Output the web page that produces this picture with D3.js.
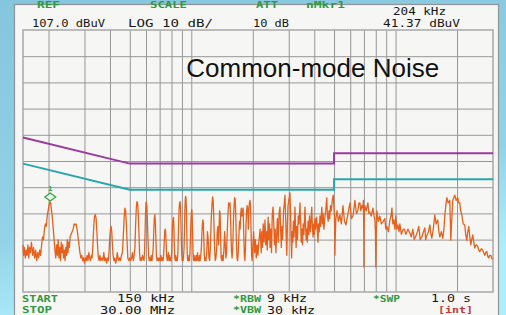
<!DOCTYPE html>
<html>
<head>
<meta charset="utf-8">
<script src="https://cdn.jsdelivr.net/npm/d3@7"></script>
<style>
html, body { margin: 0; padding: 0; background: #8ecde2; }
svg { display: block; }
</style>
</head>
<body>
<svg id="chart"></svg>
<script>
// analyzer settings
const refLevel = 107
const bottomLevel = 7
const startKHz = 150
const stopKHz = 30000
const freqGrid = [200, 300, 400, 500, 600, 700, 800, 900, 1000, 2000, 3000, 4000, 5000, 6000, 7000, 8000, 9000, 10000, 20000]
const levelGrid = [17, 27, 37, 47, 57, 67, 77, 87, 97]

// CISPR limit lines [kHz, dBuV]
const qpLimit = [[150, 66], [500, 56], [5000, 56], [5000, 60], [30000, 60]]
const avgLimit = [[150, 56], [500, 46], [5000, 46], [5000, 50], [30000, 50]]

const trace = [
  [150,25],[151,21],[152.5,24],[154,20],[155.5,23],[157,21],[158.5,25],[160,20],[161.5,24],[163,22],[165,26],[167,21],[169,24],[171,20],[173,23],[175,19],[177,22],[179,20],[181,23],[183,21],[185,25],[187,28],[189,27],[191,31],[193,33],[195,32],[197,36],[199,38],[201,40],[203,41.4],[205,41],[207,38],[209,35],[211,31],[213,27],[215,23],[217,20],
  [219,25],[221,21],[223,27],[225,20],[227,24],[229,19],[231,26],[233,22],[235,25],[237,20],[239,23],[241,19],[243,24],[245,21],[247,27],[249,22],[251,26],[253,24],[255,28],
  [258,29],[261,30],[264,31],[267,33],[270,32.6],[273,33],[276,31],[279,28],[282,25],[285,22],[288,20],[291,21],[294,19],[297,20],[300,18],[303,20],[306,19],[309,21],[312,19],[315,22],[318,20],[321,19],[324,21],[327,20],[330,25],[333,32],[336,36],[339,36.5],[342,35],[345,30],[348,24],[351,20],[354,19],[357,21],[361,19],[365,20],[369,19],[373,22],[377,19],[381,20],[385,18],[389,20],[393,19],[396,23],[399,28],[402,31],[405,32],[408,30],[411,25],[414,21],[418,19],[422,20],[426,18],[430,19],[434,22],[438,20],[442,19],[446,20],[450,19],[455,21],[460,22],[465,29],[469,35],[473,39],[477,38],[481,33],[485,26],[489,20],[494,19],[500,20],[505,19],[510,20],[515,22],[520,19],[525,21],[530,24],[534,33],[538,39],[542,41.5],[546,41],[550,37],[554,30],[558,22],[562,19],[567,20],[572,19],[577,21],[582,20],[587,19],[591,23],[594,30],[597,37],[600,41],[603,41.3],[606,40],[610,34],[614,27],[618,21],[622,19],[627,20],[632,19],[637,21],[642,19],[647,21],[651,24],[655,30],[659,35],[663,36.5],[667,34],[671,27],[675,21],[680,19],[686,20],[692,19],[698,20],[704,19],[710,21],[716,19],[722,20],[728,19],[733,22],[737,26],[741,30],[745,31],[749,30],[753,26],[757,21],[762,19],[767,20],[772,22],[777,19],[782,21],[787,19],[792,20],[797,19],[802,22],[806,28],[810,33],[814,35],[818,35.5],[822,32],[826,25],[830,20],[835,19],[840,21],[845,19],[850,20],[855,19],[860,22],[864,28],[868,35],[872,39],[877,41],[882,41.5],[887,38],[892,30],[897,22],[902,19],[907,20],[912,19],[917,21],[922,24],[926,31],[930,38],[934,42],[938,43.5],[942,43],[946,39],[950,31],[955,22],[960,19],[965,20],[970,19],[975,21],[980,19],[985,22],[990,27],[995,33],[1000,37],[1005,38.5],[1010,36],[1015,29],[1020,22],[1026,19],[1032,21],[1038,19],[1044,20],[1050,19],[1056,21],[1062,19],[1068,20],[1074,22],[1080,19],[1086,20],[1092,19],[1098,21],[1104,19],[1110,20],[1116,22],[1122,25],[1128,30],[1134,33],[1140,34.5],[1146,33],[1152,27],[1158,21],[1164,19],
  [1170,20],[1180,19],[1190,22],[1200,30],[1210,27],[1220,20],[1230,19],[1240,24],[1252,35],[1264,41],[1272,43.3],[1280,42],[1290,34],[1300,24],[1310,19],[1320,20],[1330,23],[1340,30],[1350,32],[1360,25],[1368,32],[1376,38],[1384,37],[1392,28],[1400,20],[1410,19],[1420,21],[1432,19],[1444,23],[1456,30],[1466,26],[1476,20],[1488,22],[1500,30],[1512,37],[1524,41],[1536,40],[1548,41],[1560,33],[1572,23],[1584,20],[1596,24],[1608,34],[1620,40],[1630,43],[1640,42.5],[1650,37],[1662,27],[1674,20],[1686,19],[1698,22],[1710,28],[1722,34],[1734,31],[1746,37],[1758,39],[1770,36],[1782,38],[1794,39],[1806,30],[1818,21],[1830,19],[1842,24],[1854,33],[1866,38],[1878,40],[1890,39],[1902,31],[1914,38],[1926,41],[1938,42],[1950,40],[1962,30],[1974,21],[1986,19],
  [2000,24],[2020,30],[2040,22],[2060,27],[2080,20],[2100,25],[2120,21],[2140,26],[2160,29],[2171,31],[2185,27],[2200,22],[2215,30],[2230,24],[2250,33],[2270,26],[2296,34.5],[2315,25],[2335,30],[2355,23],[2378,35.6],[2395,27],[2415,33],[2430,24],[2450,31],[2470,22],[2490,36],[2513,39.4],[2535,33],[2555,25],[2575,31],[2595,22],[2615,28],[2640,35],[2665,26],[2690,37],[2718,39.4],[2740,30],[2760,24],[2780,32],[2800,27],[2830,38],[2855,41],[2876,44],[2895,36],[2915,28],[2935,21],[2955,33],[2975,40],[3000,42],[3020,43],[3042,44.8],[3060,38],[3080,27],[3100,20],[3120,30],[3140,26],[3160,34],[3185,28],[3218,39.4],[3240,31],[3260,24],[3285,32],[3310,27],[3340,36],[3370,33],[3405,41],[3430,34],[3455,26],[3480,31],[3505,25],[3530,33],[3560,29],[3602,39.4],[3625,33],[3650,27],[3675,31],[3700,26],[3730,34],[3760,29],[3790,36],[3830,30],[3860,35],[3889,39.4],[3915,32],[3945,28],[3975,33],[4000,29],[4031,35],[4060,31],[4110,35.6],[4140,31],[4170,26],[4200,33],[4230,30],[4265,36],[4300,32],[4355,39.4],[4390,33],[4420,37],[4460,31],[4500,35],[4550,38],[4605,43],[4640,36],[4680,34],[4720,38],[4760,35],[4800,40],[4850,38],[4900,42],[4950,44],[4990,40],[5020,36],[5040,28],[5049,21],[5060,26],
  [5100,35],[5170,38],[5250,34],[5342,36.4],[5430,33],[5530,40],[5620,34],[5720,32.6],[5850,37],[5979,41],[6080,35],[6190,36],[6260,39],[6324,42],[6430,37],[6540,38],[6620,41],[6691,41],[6760,38],[6840,40],[6920,39],[6960,42],[6990,30],[7000,16.5],[7010,28],[7040,38],[7078,40],[7180,38],[7320,41],[7400,37],[7488,37.5],[7600,36],[7750,39],[7850,36],[7922,34.5],[7970,30],[8010,16.5],[8050,30],[8100,38],[8240,34],[8381,36],[8520,33],[8670,33.7],[8865,35],[8960,31],[9070,32],[9230,30],[9380,34.5],[9500,36],[9600,39],[9700,33],[9810,34.5],[9920,31],[10030,36],[10150,31],[10270,32.6],[10400,30],[10497,33],[10680,29],[10860,30.7],[11050,31],[11230,29],[11500,31],[11748,29.5],[11950,28],[12150,31],[12350,27],[12570,28.4],[12800,30],[13000,32],[13200,27],[13450,28],[13700,30],[13909,31.5],[14050,27],[14220,28.5],[14500,30],[14715,32.6],[14900,29],[15050,27.6],[15300,31],[15567,36.4],[15800,33],[16100,34.5],[16300,30],[16469,28],[16750,30],[17040,27.5],[17250,31],[17422,36],[17620,40],[17820,43],[18100,41],[18431,42],[18550,34],[18640,26.8],[18800,33],[19060,42],[19300,43],[19499,44],[19800,42],[20170,43],[20400,41],[20628,41],[20850,38],[21100,36.4],[21450,33],[21823,32.6],[22050,29],[22320,26.8],[22580,30],[22830,32],[23100,28],[23350,25],[23600,27],[23880,28.8],[24150,26],[24424,23.8],[24800,25],[25260,24.5],[25550,23],[25839,22.4],[26300,23.5],[26730,23],[27000,22],[27335,21],[27650,22],[27960,22.5],[28300,20.5],[28600,20],[28900,21],[29260,21],[29600,19.8],[30000,19.5]
]

// marker 1
const markerKHz = 204
const markerLevel = 41.37
const markerName = '1'

// screen annotations
const title = 'Common-mode Noise'
const headerKeys = ['REF', 'SCALE', 'ATT', 'nMkr1']
const headerValues = ['107.0 dBuV', 'LOG 10 dB/', '10 dB']
const markerReadout = ['204 kHz', '41.37 dBuV']
const footerKeys = ['START', 'STOP', '*RBW', '*VBW', '*SWP']
const footerValues = ['150 kHz', '30.00 MHz', '9 kHz', '30 kHz', '1.0 s']
const sweepMode = '[int]'

const width = 506, height = 315
const margin = { top: 30, right: 13, bottom: 23, left: 23 }

const svg = d3.select('#chart').attr('width', width).attr('height', height).attr('viewBox', [0, 0, width, height])

// backdrop
const defs = svg.append('defs')
const bg = defs.append('linearGradient').attr('id', 'bg').attr('x1', 0).attr('y1', 0).attr('x2', 0.3).attr('y2', 1)
bg.append('stop').attr('offset', '0%').attr('stop-color', '#86c6dc')
bg.append('stop').attr('offset', '70%').attr('stop-color', '#93d3e8')
bg.append('stop').attr('offset', '100%').attr('stop-color', '#aeeefc')
svg.append('rect').attr('width', width).attr('height', height).attr('fill', 'url(#bg)')
svg.append('rect').attr('x', 14.5).attr('y', 4.5).attr('width', 484).attr('height', 320)
    .attr('fill', '#f6f7f5').attr('stroke', '#8d9496').attr('stroke-width', 1.2)

const innerW = width - margin.left - margin.right
const innerH = height - margin.top - margin.bottom

const x = d3.scaleLog().domain([startKHz, stopKHz]).range([0, innerW])
const y = d3.scaleLinear().domain([bottomLevel, refLevel]).range([innerH, 0])

const g = svg.append('g').attr('transform', `translate(${ margin.left },${ margin.top })`)

// graticule
const gx = g.append('g').attr('transform', `translate(0,${ innerH })`)
    .call(d3.axisBottom(x).tickValues(freqGrid).tickSize(-innerH).tickFormat(''))
const gy = g.append('g')
    .call(d3.axisLeft(y).tickValues(levelGrid).tickSize(-innerW).tickFormat(''))
for (const a of [gx, gy]) {
    a.select('.domain').remove()
    a.selectAll('line').attr('stroke', '#969696').attr('stroke-width', 1)
}
g.append('rect').attr('width', innerW).attr('height', innerH)
    .attr('fill', 'none').attr('stroke', '#a8a8a8').attr('stroke-width', 1.5)

const line = d3.line().x(d => x(d[0])).y(d => y(d[1]))

g.append('text')
    .attr('x', x(1000) - 5).attr('y', 47)
    .attr('font-family', 'Liberation Sans, Arial, sans-serif').attr('font-size', 26)
    .attr('fill', '#111').text(title)

g.append('path').datum(qpLimit).attr('fill', 'none').attr('stroke', '#9c3aa0').attr('stroke-width', 2).attr('d', line)
g.append('path').datum(avgLimit).attr('fill', 'none').attr('stroke', '#2aa6a8').attr('stroke-width', 2).attr('d', line)

g.append('path').datum(trace).attr('fill', 'none').attr('stroke', '#e8601c')
    .attr('stroke-width', 1.3).attr('stroke-linejoin', 'round').attr('d', line)

// marker diamond
const mx = x(markerKHz), my = y(markerLevel) - 5
g.append('path')
    .attr('d', `M${ mx - 5.5 },${ my }L${ mx },${ my - 4 }L${ mx + 5.5 },${ my }L${ mx },${ my + 4 }Z`)
    .attr('fill', '#e4f4e0').attr('stroke', '#3f9e4a').attr('stroke-width', 1.2)
g.append('text').attr('x', mx).attr('y', my - 6).attr('text-anchor', 'middle')
    .attr('font-family', 'DejaVu Sans Mono, monospace').attr('font-size', 7).attr('font-weight', 'bold')
    .attr('fill', '#3f9e4a').text(markerName)

// on-screen text
const green = '#2f9a3c'
const keyText = (t, px, py, len, color = green) => svg.append('text')
    .attr('x', px).attr('y', py).attr('textLength', len).attr('lengthAdjust', 'spacingAndGlyphs')
    .attr('font-family', 'DejaVu Sans Mono, monospace').attr('font-size', 8).attr('font-weight', 'bold')
    .attr('fill', color).text(t)
const valueText = (t, px, py, len) => svg.append('text')
    .attr('x', px).attr('y', py).attr('textLength', len).attr('lengthAdjust', 'spacingAndGlyphs')
    .attr('font-family', 'DejaVu Sans Mono, monospace').attr('font-size', 10.5)
    .attr('fill', '#151515').text(t)

const headerKeyPos = [[37, 8, 23], [150, 8, 37], [256, 8, 22], [306, 8, 39]]
headerKeys.forEach((t, i) => keyText(t, ...headerKeyPos[i]))
const headerValuePos = [[32, 27, 73], [128, 27, 85], [253, 27, 36]]
headerValues.forEach((t, i) => valueText(t, ...headerValuePos[i]))
const readoutPos = [[393, 14.5, 53], [383, 27, 77]]
markerReadout.forEach((t, i) => valueText(t, ...readoutPos[i]))

const footerKeyPos = [[22, 302, 36], [22, 313, 30], [233, 302, 28], [233, 313, 28], [373, 302, 27]]
footerKeys.forEach((t, i) => keyText(t, ...footerKeyPos[i]))
const footerValuePos = [[117, 302, 58], [100, 314, 75], [267, 302, 40], [267, 314, 48], [431, 302, 40]]
footerValues.forEach((t, i) => valueText(t, ...footerValuePos[i]))
keyText(sweepMode, 438, 313, 35, '#c23a3a')
</script>
</body>
</html>
